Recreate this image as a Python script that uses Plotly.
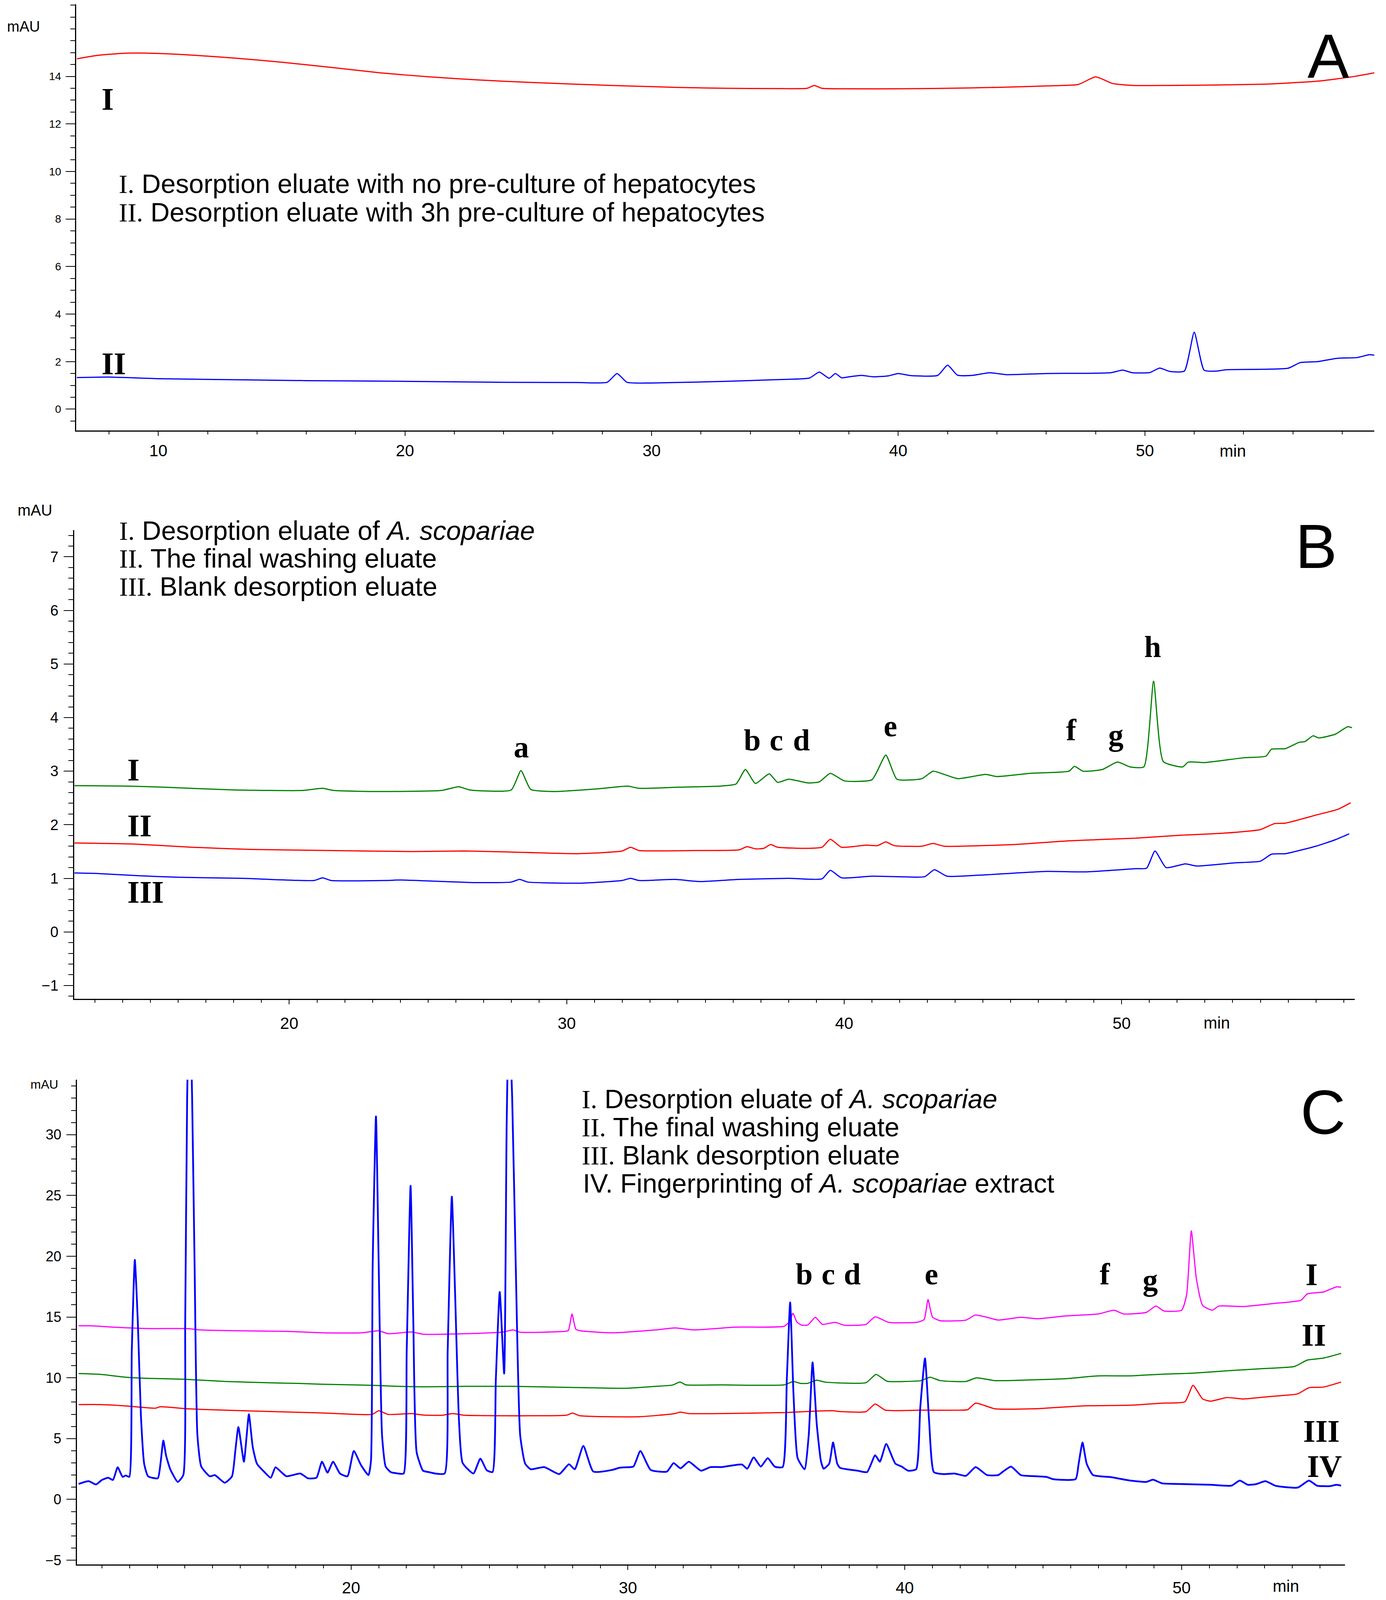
import plotly.graph_objects as go

# reference pixel frame used for placing things (converted to paper fractions)
W, H_REF = 3548, 4702
# the browser viewport is 3548 x 4096, so the figure is drawn at that height
FIG_H = 4096

# ---------------- Panel A data ----------------
A_I_t = [6.7, 7.5, 8.5, 9.5, 11, 13, 15, 17, 19, 21, 23, 25, 27, 29, 31, 33, 35, 36.3, 36.6, 36.9,
         38, 40, 42, 44, 46, 47.3, 48.0, 48.7, 49.5, 51, 53, 55, 57, 58.5, 59.3]
A_I_v = [14.74, 14.88, 14.97, 14.98, 14.92, 14.78, 14.6, 14.38, 14.15, 13.98, 13.85, 13.75, 13.67,
         13.6, 13.54, 13.5, 13.49, 13.5, 13.62, 13.5, 13.48, 13.48, 13.5, 13.54, 13.6, 13.66, 13.98,
         13.7, 13.62, 13.62, 13.64, 13.68, 13.8, 14.0, 14.15]

A_II_t = [6.7, 8, 10, 13, 16, 20, 24, 27, 28.2, 28.6, 29.0, 30, 33, 35, 36.4, 36.8, 37.2, 37.45, 37.7,
          38.0, 38.5, 39.0, 39.6, 40.0, 40.5, 41.6, 42.0, 42.4, 43.0, 43.7, 44.4, 46, 48.6, 49.1, 49.5,
          50.2, 50.6, 51.0, 51.6, 52.0, 52.4, 52.9, 53.3, 55.8, 56.3, 57.0, 57.8, 58.6, 59.1, 59.3]
A_II_v = [1.33, 1.35, 1.28, 1.24, 1.2, 1.17, 1.13, 1.12, 1.13, 1.5, 1.13, 1.1, 1.17, 1.24, 1.31, 1.56,
          1.3, 1.5, 1.32, 1.36, 1.42, 1.36, 1.4, 1.5, 1.41, 1.42, 1.85, 1.43, 1.42, 1.53, 1.45, 1.5,
          1.53, 1.64, 1.53, 1.54, 1.73, 1.59, 1.6, 3.24, 1.64, 1.6, 1.66, 1.72, 1.96, 2.0, 2.14, 2.17,
          2.29, 2.27]

# ---------------- Panel B data ----------------
B_I_t = [12.26, 14.2, 15.5, 18.0, 20.5, 21.2, 21.6, 23.2, 25.5, 26.1, 26.5, 28.0, 28.35, 28.7, 29.5,
         31.1, 32.2, 32.6, 34.0, 35.5, 36.1, 36.44, 36.8, 37.3, 37.6, 38.0, 38.7, 39.1, 39.5, 40.0,
         41.0, 41.5, 41.9, 42.8, 43.2, 43.6, 44.1, 45.1, 45.5, 46.7, 48.1, 48.3, 48.6, 49.3, 49.85,
         50.3, 50.8, 51.15, 51.5, 52.2, 52.4, 53.0, 54.4, 55.2, 55.4, 55.9, 56.4, 56.6, 56.9, 57.1,
         57.7, 58.15, 58.3]
B_I_v = [2.73, 2.72, 2.70, 2.65, 2.64, 2.68, 2.64, 2.62, 2.64, 2.71, 2.65, 2.65, 3.01, 2.66, 2.62,
         2.67, 2.72, 2.68, 2.7, 2.72, 2.76, 3.03, 2.77, 2.95, 2.79, 2.85, 2.78, 2.80, 2.96, 2.82,
         2.84, 3.30, 2.85, 2.86, 3.0, 2.94, 2.86, 2.94, 2.9, 2.96, 3.0, 3.09, 3.0, 3.03, 3.17,
         3.08, 3.08, 4.68, 3.18, 3.08, 3.17, 3.16, 3.25, 3.28, 3.41, 3.42, 3.54, 3.55, 3.66, 3.62,
         3.69, 3.83, 3.81]

B_II_t = [12.26, 14.4, 16.5, 18.6, 21.4, 24.4, 26.3, 28.0, 30.4, 32.0, 32.3, 32.6, 34.8, 36.2, 36.5,
          36.8, 37.1, 37.35, 37.6, 38.7, 39.2, 39.5, 39.9, 40.8, 41.2, 41.5, 41.8, 42.8, 43.2, 43.6,
          46.1, 48.1, 50.5, 52.0, 53.6, 55.0, 55.5, 55.9, 57.0, 57.8, 58.25]
B_II_v = [1.66, 1.64, 1.58, 1.54, 1.52, 1.5, 1.51, 1.49, 1.46, 1.51, 1.58, 1.52, 1.52, 1.53, 1.59,
          1.55, 1.56, 1.63, 1.58, 1.56, 1.58, 1.73, 1.58, 1.62, 1.61, 1.68, 1.61, 1.6, 1.65, 1.6,
          1.63, 1.7, 1.75, 1.8, 1.84, 1.91, 2.02, 2.03, 2.18, 2.29, 2.41]

B_III_t = [12.26, 13.1, 14.55, 16.0, 18.3, 20.9, 21.2, 21.5, 23.5, 24.0, 26.7, 28.0, 28.3, 28.6, 30.5,
           32.0, 32.3, 32.6, 33.9, 34.8, 36.2, 38.0, 39.2, 39.5, 39.9, 41.0, 42.0, 42.9, 43.25, 43.7,
           44.9, 47.3, 48.7, 50.5, 50.9, 51.2, 51.6, 52.3, 52.7, 54.1, 55.0, 55.4, 55.9, 57.0, 57.7,
           58.2]
B_III_v = [1.10, 1.09, 1.05, 1.02, 1.0, 0.96, 1.01, 0.96, 0.96, 0.97, 0.92, 0.93, 0.98, 0.93, 0.91,
           0.96, 1.0, 0.96, 0.98, 0.94, 0.98, 1.0, 0.99, 1.15, 1.01, 1.04, 1.03, 1.03, 1.16, 1.04,
           1.06, 1.13, 1.12, 1.18, 1.19, 1.51, 1.2, 1.27, 1.23, 1.29, 1.32, 1.45, 1.46, 1.6, 1.72,
           1.83]

# ---------------- Panel C data ----------------
C_I_t = [10.16, 10.6, 11.41, 12.75, 14.1, 14.54, 15.88, 17.67, 19.0, 20.36, 21.0, 21.34, 22.2, 22.6,
         24.1, 25.5, 25.85, 26.1, 27.72, 27.85, 27.98, 28.12, 28.28, 29.44, 31.0, 31.7, 32.39, 33.87,
         35.64, 35.84, 35.96, 36.1, 36.28, 36.5, 36.77, 37.02, 37.49, 37.81, 38.6, 38.93, 39.42,
         40.47, 40.7, 40.84, 41.0, 41.28, 42.21, 42.54, 42.97, 43.38, 44.19, 44.77, 45.82, 46.98,
         47.56, 47.91, 48.73, 49.07, 49.36, 50.0, 50.18, 50.35, 50.53, 50.76, 51.11, 51.34, 52.21,
         53.38, 54.3, 54.54, 55.12, 55.59, 55.76]
C_I_v = [14.28, 14.28, 14.17, 14.05, 14.05, 13.94, 13.87, 13.82, 13.7, 13.7, 13.87, 13.63, 13.77,
         13.59, 13.63, 13.77, 13.94, 13.75, 13.82, 13.9, 15.25, 14.0, 13.87, 13.7, 13.94, 14.1,
         13.94, 14.17, 14.24, 14.63, 15.32, 14.6, 14.33, 14.35, 14.98, 14.4, 14.56, 14.33, 14.4,
         15.02, 14.56, 14.58, 14.8, 16.44, 15.0, 14.7, 14.75, 15.16, 14.98, 14.75, 14.98, 14.86,
         15.09, 15.25, 15.56, 15.25, 15.39, 15.9, 15.5, 15.56, 16.83, 22.1, 18.2, 15.95, 15.56,
         15.9, 15.86, 16.13, 16.37, 16.9, 17.06, 17.48, 17.45]

C_II_t = [10.16, 10.97, 11.86, 12.75, 14.0, 15.44, 17.23, 18.12, 19.0, 20.8, 21.7, 22.6, 24.1, 25.85,
          28.45, 29.93, 31.0, 31.6, 31.88, 32.1, 33.38, 35.64, 35.98, 36.23, 36.5, 36.82, 37.12,
          38.6, 38.96, 39.36, 40.0, 40.59, 40.91, 41.28, 42.21, 42.59, 43.26, 44.66, 45.82, 46.98,
          48.14, 49.3, 50.47, 51.63, 52.8, 54.07, 54.54, 55.12, 55.76]
C_II_v = [10.35, 10.28, 10.05, 9.95, 9.88, 9.7, 9.58, 9.54, 9.47, 9.38, 9.3, 9.26, 9.3, 9.3, 9.19,
          9.14, 9.3, 9.4, 9.65, 9.42, 9.42, 9.42, 9.7, 9.54, 9.55, 9.81, 9.65, 9.6, 10.28, 9.72,
          9.7, 9.77, 10.05, 9.77, 9.7, 10.0, 9.77, 9.84, 9.93, 10.16, 10.16, 10.3, 10.39, 10.58,
          10.74, 10.93, 11.46, 11.62, 12.01]

C_III_t = [10.16, 10.97, 11.86, 12.93, 13.11, 14.1, 15.44, 17.23, 19.0, 20.76, 21.0, 21.34, 22.2,
           22.6, 23.3, 23.67, 24.1, 26.49, 27.77, 28.0, 28.26, 30.42, 31.7, 31.88, 32.2, 33.38,
           35.74, 36.82, 37.41, 37.71, 38.6, 38.93, 39.3, 40.59, 41.98, 42.27, 42.56, 43.26, 44.66,
           46.4, 48.14, 49.3, 50.12, 50.41, 50.76, 51.05, 51.63, 52.21, 53.14, 54.19, 54.6, 55.12,
           55.76]
C_III_v = [7.8, 7.8, 7.69, 7.5, 7.62, 7.45, 7.34, 7.22, 7.11, 6.99, 7.29, 6.99, 7.06, 6.94, 6.92,
           7.06, 6.92, 6.88, 6.92, 7.1, 6.88, 6.8, 7.06, 7.18, 7.06, 7.06, 7.15, 7.27, 7.29, 7.22,
           7.22, 7.85, 7.34, 7.34, 7.34, 7.38, 7.92, 7.45, 7.45, 7.69, 7.75, 7.92, 8.03, 9.38, 8.26,
           8.08, 8.38, 8.26, 8.45, 8.68, 9.19, 9.24, 9.65]

C_IV_t = [10.16, 10.52, 10.79, 11.0, 11.23, 11.4, 11.57, 11.75, 11.86, 11.99, 12.08, 12.19, 12.3,
          12.41, 12.53, 12.67, 13.02, 13.12, 13.22, 13.32, 13.47, 13.74, 13.94, 14.01, 14.08, 14.17,
          14.26, 14.35, 14.45, 14.59, 14.9, 15.08, 15.44, 15.7, 15.82, 15.93, 16.13, 16.22, 16.31,
          16.45, 16.6, 16.87, 17.1, 17.27, 17.5, 17.67, 18.17, 18.44, 18.75, 18.95, 19.15, 19.35,
          19.6, 19.87, 20.1, 20.36, 20.63, 20.72, 20.78, 20.9, 21.0, 21.12, 21.25, 21.43, 21.7,
          21.9, 22.01, 22.15, 22.25, 22.37, 22.6, 22.8, 23.04, 23.38, 23.49, 23.64, 23.76, 23.9,
          24.03, 24.42, 24.67, 24.9, 25.11, 25.23, 25.37, 25.53, 25.62, 25.7, 25.82, 25.95, 26.11,
          26.29, 26.49, 26.98, 27.52, 27.87, 28.08, 28.39, 28.75, 29.44, 29.69, 29.93, 30.2, 30.45,
          30.82, 31.41, 31.65, 31.9, 32.2, 32.64, 32.98, 33.38, 34.12, 34.31, 34.54, 34.8, 35.05,
          35.3, 35.59, 35.74, 35.86, 35.98, 36.13, 36.38, 36.53, 36.67, 36.82, 36.97, 37.07, 37.27,
          37.41, 37.56, 37.66, 38.3, 38.64, 38.93, 39.1, 39.33, 39.66, 39.89, 40.12, 40.41, 40.56,
          40.73, 40.88, 41.05, 41.4, 41.8, 42.21, 42.56, 42.97, 43.38, 43.55, 43.84, 44.19, 44.77,
          45.12, 45.35, 46.17, 46.28, 46.42, 46.57, 46.8, 47.45, 48.14, 48.73, 48.96, 49.3, 49.89,
          51.05, 51.8, 52.1, 52.39, 52.68, 53.03, 53.38, 54.19, 54.6, 54.89, 55.35, 55.59, 55.76]
C_IV_v = [1.27, 1.5, 1.23, 1.6, 1.78, 1.6, 2.64, 1.85, 1.97, 1.85, 12.2, 19.7, 14.5,
          6.9, 2.9, 1.9, 1.74, 3.0, 4.84, 3.6, 2.48, 1.44, 2.0, 14.5, 33.0, 42.0,
          33.0, 19.1, 5.3, 2.7, 1.9, 2.0, 1.37, 1.9, 4.0, 5.95, 3.1, 5.0, 7.0,
          4.3, 2.94, 2.25, 1.78, 2.64, 2.2, 1.9, 2.13, 1.74, 1.78, 3.1, 2.2, 3.1,
          2.13, 1.9, 3.98, 2.82, 2.0, 3.2, 19.1, 31.5, 19.1, 5.25, 2.7, 2.25, 2.13,
          2.13, 12.2, 25.8, 14.5, 3.87, 2.36, 2.25, 2.13, 2.13, 12.2, 24.9, 16.8, 6.4,
          3.0, 2.13, 3.36, 2.4, 2.25, 9.9, 17.06, 10.35, 30.7, 40.0, 33.0, 19.1, 5.25,
          2.94, 2.48, 2.66, 2.08, 2.89, 2.48, 4.4, 2.29, 2.43, 2.6, 2.64, 2.7, 3.98,
          2.43, 2.29, 2.99, 2.55, 3.1, 2.36, 2.66, 2.66, 2.87, 2.52, 3.45, 2.7, 3.4,
          2.7, 2.66, 9.9, 16.2, 8.7, 3.4, 2.48, 5.25, 11.27, 6.2, 3.17, 2.52, 2.94,
          4.68, 2.94, 2.6, 2.36, 2.25, 3.63, 3.1, 4.56, 2.94, 2.7, 2.36, 2.48, 7.57,
          11.6, 6.4, 2.25, 2.08, 2.13, 1.94, 2.66, 2.0, 2.0, 2.29, 2.7, 2.0, 1.9,
          1.85, 1.67, 1.67, 2.94, 4.68, 2.94, 2.0, 1.83, 1.55, 1.44, 1.62, 1.32, 1.27,
          1.2, 1.13, 1.55, 1.2, 1.25, 1.5, 1.13, 0.97, 1.55, 1.13, 1.09, 1.2, 1.13]

X_TICKS = [10, 20, 30, 40, 50]
A_YTICKS = [0, 2, 4, 6, 8, 10, 12, 14]
B_YTICKS = [-1, 0, 1, 2, 3, 4, 5, 6, 7]
C_YTICKS = [-5, 0, 5, 10, 15, 20, 25, 30]

RED, BLUE, GREEN, MAGENTA = "#FF0000", "#0000FF", "#008000", "#FF00FF"
SANS = "Liberation Sans, Arial, sans-serif"
SERIF = "Liberation Serif, Times New Roman, serif"

fig = go.Figure()


def add(t, v, color, xa, ya, width=3):
    fig.add_trace(go.Scatter(x=t, y=v, mode="lines", xaxis=xa, yaxis=ya,
                             line=dict(color=color, width=width, shape="spline", smoothing=0.5),
                             showlegend=False, hoverinfo="skip"))


add(A_I_t, A_I_v, RED, "x", "y")
add(A_II_t, A_II_v, BLUE, "x", "y")
add(B_I_t, B_I_v, GREEN, "x2", "y2")
add(B_II_t, B_II_v, RED, "x2", "y2")
add(B_III_t, B_III_v, BLUE, "x2", "y2")
add(C_I_t, C_I_v, MAGENTA, "x3", "y3")
add(C_II_t, C_II_v, GREEN, "x3", "y3")
add(C_III_t, C_III_v, RED, "x3", "y3")
add(C_IV_t, C_IV_v, BLUE, "x3", "y3", width=4.5)


def dom_x(a, b):
    return [a / W, b / W]


def dom_y(top, bottom):
    return [1 - bottom / H_REF, 1 - top / H_REF]


def xaxis(domain, rng, anchor, standoff, minor_dtick):
    return dict(domain=domain, range=rng, anchor=anchor, showgrid=False, zeroline=False,
                showline=True, linecolor="black", linewidth=3,
                tickmode="array", tickvals=X_TICKS, ticks="outside", ticklen=11,
                tickwidth=2, tickcolor="black", ticklabelstandoff=standoff,
                tickfont=dict(family=SANS, size=42, color="black"),
                minor=dict(dtick=minor_dtick, tick0=0, ticks="outside", ticklen=7,
                           tickwidth=2, tickcolor="black"))


def yaxis(domain, rng, anchor, ticks, minor_dtick, fsize):
    return dict(domain=domain, range=rng, anchor=anchor, showgrid=False, zeroline=False,
                showline=True, linecolor="black", linewidth=2.5,
                tickmode="array", tickvals=ticks, ticks="outside", ticklen=24,
                tickwidth=2, tickcolor="black", ticklabelstandoff=6,
                tickfont=dict(family=SANS, size=fsize, color="black"),
                minor=dict(dtick=minor_dtick, tick0=0, ticks="outside", ticklen=12,
                           tickwidth=2, tickcolor="black"))


fig.update_layout(
    width=W, height=FIG_H, margin=dict(l=0, r=0, t=0, b=0),
    paper_bgcolor="white", plot_bgcolor="white", showlegend=False,
    xaxis=xaxis(dom_x(195, 3518), [6.67, 59.3], "y", 1, 2),
    yaxis=yaxis(dom_y(13, 1268), [-0.9, 17.03], "x", A_YTICKS, 0.5, 28),
    xaxis2=xaxis(dom_x(190, 3468), [12.25, 58.4], "y2", 12, 1),
    yaxis2=yaxis(dom_y(1561, 2942), [-1.25, 7.5], "x2", B_YTICKS, 0.2, 38),
    xaxis3=xaxis(dom_x(197, 3443), [10.1, 55.9], "y3", 9, 1),
    yaxis3=yaxis(dom_y(3180, 4608), [-5.36, 34.52], "x3", C_YTICKS, 1, 36),
)

ann = []


def text(s, X, Y, size, family=SANS, xanchor="center", yanchor="middle"):
    ann.append(dict(text=s, x=X / W, y=1 - Y / H_REF, xref="paper", yref="paper",
                    xanchor=xanchor, yanchor=yanchor, showarrow=False,
                    font=dict(family=family, size=size, color="black")))


def roman(s):
    return "<span style='font-family:Liberation Serif'>" + s + "</span>"


# axis unit labels
text("mAU", 60, 78, 38)
text("mAU", 89, 1503, 40)
text("mAU", 114, 3194, 32)
text("min", 3156, 1328, 42)
text("min", 3115, 3012, 42)
text("min", 3292, 4672, 42)

# panel letters
text("A", 3400, 165, 160)
text("B", 3369, 1609, 160)
text("C", 3387, 3275, 160)

# Legends
LS = 68
text(roman("I.") + " Desorption eluate with no pre-culture of hepatocytes", 302, 541, LS, xanchor="left")
text(roman("II.") + " Desorption eluate with 3h pre-culture of hepatocytes", 302, 625, LS, xanchor="left")
text(roman("I.") + " Desorption eluate of <i>A. scopariae</i>", 303, 1563, LS, xanchor="left")
text(roman("II.") + " The final washing eluate", 303, 1645, LS, xanchor="left")
text(roman("III.") + " Blank desorption eluate", 303, 1727, LS, xanchor="left")
text(roman("I.") + " Desorption eluate of <i>A. scopariae</i>", 1487, 3237, LS, xanchor="left")
text(roman("II.") + " The final washing eluate", 1487, 3320, LS, xanchor="left")
text(roman("III.") + " Blank desorption eluate", 1487, 3402, LS, xanchor="left")
text("IV. Fingerprinting of <i>A. scopariae</i> extract", 1490, 3485, LS, xanchor="left")

# trace labels (Roman numerals)
for s, X, Y in [("I", 258, 292), ("II", 258, 1071),
                ("I", 324, 2268), ("II", 324, 2432), ("III", 324, 2628),
                ("I", 3340, 3754), ("II", 3330, 3932), ("III", 3334, 4215), ("IV", 3344, 4319)]:
    text("<b>" + s + "</b>", X, Y, 80, family=SERIF, xanchor="left")

# peak letters
for s, X, Y in [("a", 1334, 2200), ("b", 1925, 2180), ("c", 1987, 2180), ("d", 2051, 2180),
                ("e", 2279, 2138), ("f", 2742, 2150), ("g", 2856, 2165), ("h", 2950, 1905),
                ("b", 2058, 3752), ("c", 2120, 3752), ("d", 2181, 3752), ("e", 2384, 3752),
                ("f", 2828, 3752), ("g", 2944, 3770)]:
    text("<b>" + s + "</b>", X, Y, 78, family=SERIF)

fig.update_layout(annotations=ann)
fig.write_html("out.html", config={"displayModeBar": False},
               post_script="document.body.style.margin='0';")
